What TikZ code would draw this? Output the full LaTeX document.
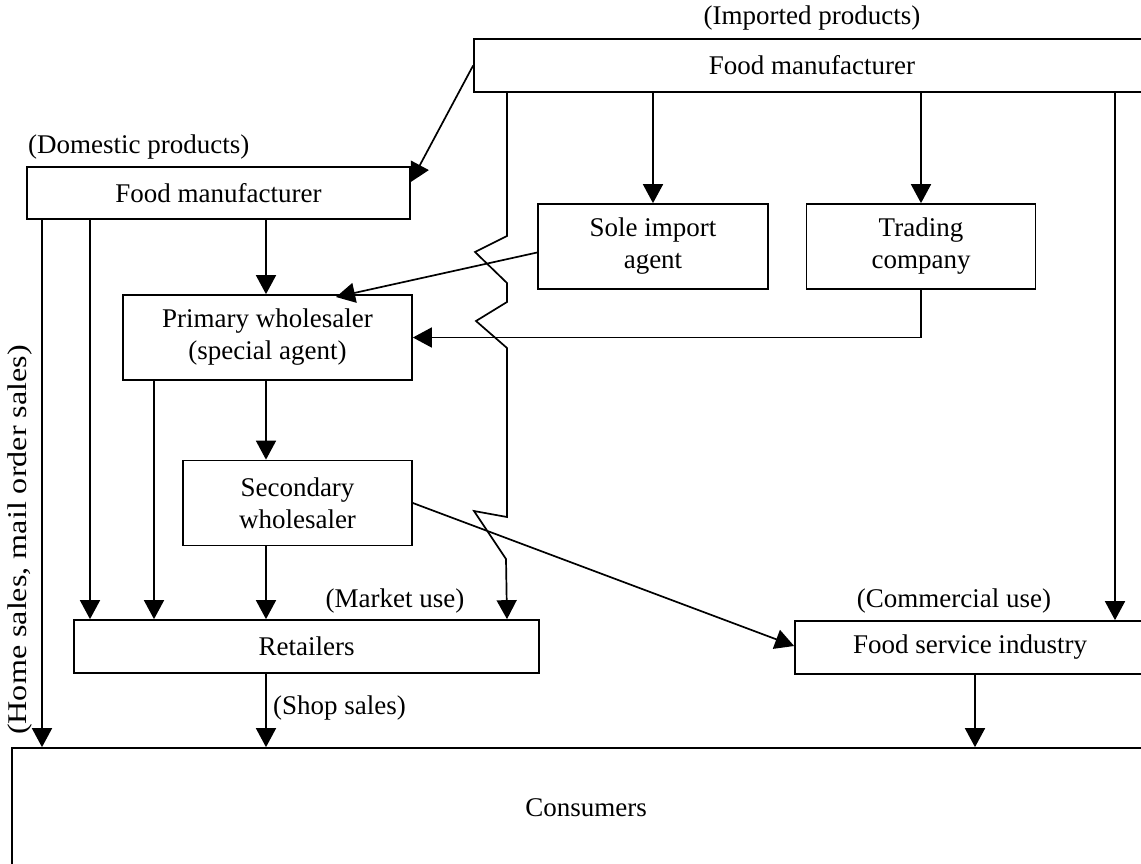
\documentclass[tikz,border=0pt]{standalone}
\usepackage{fontspec}
\setmainfont{Liberation Serif}
\usetikzlibrary{arrows.meta}

\begin{document}
\begin{tikzpicture}[x=1pt,y=-1pt,
	box/.style={draw,line width=1.7pt,inner sep=0pt,align=center,font=\fontsize{27}{32}\selectfont},
	lbl/.style={inner sep=0pt,font=\fontsize{27}{32}\selectfont},
	flow/.style={line width=1.7pt,-{Triangle[length=19pt,width=20pt]}}]
		\useasboundingbox (0,0) rectangle (1141,863);
		\clip (0,0) rectangle (1141,863);
		% boxes
		\node[box,minimum width=676pt,minimum height=53pt] (impmfr) at (812,65.5) {Food manufacturer};
		\node[box,minimum width=383pt,minimum height=52pt] (dommfr) at (218.5,193) {Food manufacturer};
		\node[box,minimum width=230pt,minimum height=85pt] (solea) at (653,246.5) {Sole import\\agent};
		\node[box,minimum width=229pt,minimum height=85pt] (trading) at (921,246.5) {Trading\\company};
		\node[box,minimum width=289pt,minimum height=85pt] (primary) at (267.5,337.5) {Primary wholesaler\\(special agent)};
		\node[box,minimum width=229pt,minimum height=85pt] (secondary) at (297.5,503) {Secondary\\wholesaler};
		\node[box,minimum width=465pt,minimum height=53pt] (retailers) at (306.5,646.5) {Retailers};
		\node[box,minimum width=350pt,minimum height=53pt] (foodserv) at (970,647.5) {Food service industry};
		\node[box,minimum width=1148pt,minimum height=120pt] (consumers) at (586,808) {Consumers};
		% labels
		\node[lbl] (imphdr) at (812,18) {(Imported products)};
		\node[lbl,anchor=west] (domhdr) at (28,147) {(Domestic products)};
		\node[lbl] (market) at (395,601) {(Market use)};
		\node[lbl] (commercial) at (954,601) {(Commercial use)};
		\node[lbl,anchor=west] (shop) at (273,708) {(Shop sales)};
		\node[lbl,rotate=90] (homesales) at (20,540) {\scalebox{1.19}[1]{(Home sales, mail order sales)}};
		% imported goods
		\draw[flow] (impmfr.west) -- ([yshift=11pt]dommfr.east);
		\draw[flow] (solea.north |- impmfr.south) -- (solea.north);
		\draw[flow] (trading.north |- impmfr.south) -- (trading.north);
		\draw[flow] (1115,0 |- impmfr.south) -- (1115,0 |- foodserv.north);
		\draw[flow] (507,0 |- impmfr.south) -- (507,236) -- (475,252) -- (507,283) -- (507,302)
			-- (476,321) -- (507,348) -- (507,517) -- (474,511) -- (506,559) -- (507,0 |- retailers.north);
		\draw[flow] ([yshift=-6pt]solea.west) -- (336,297);
		\draw[flow] (trading.south) |- (primary.east);
		% domestic goods
		\draw[flow] (42,0 |- dommfr.south) -- (42,0 |- consumers.north);
		\draw[flow] (90,0 |- dommfr.south) -- (90,0 |- retailers.north);
		\draw[flow] (266,0 |- dommfr.south) -- (266,0 |- primary.north);
		\draw[flow] (154,0 |- primary.south) -- (154,0 |- retailers.north);
		\draw[flow] (266,0 |- primary.south) -- (266,0 |- secondary.north);
		\draw[flow] (266,0 |- secondary.south) -- (266,0 |- retailers.north);
		\draw[flow] (secondary.east) -- ([yshift=1.5pt]foodserv.west);
		\draw[flow] (266,0 |- retailers.south) -- (266,0 |- consumers.north);
		\draw[flow] (975,0 |- foodserv.south) -- (975,0 |- consumers.north);
\end{tikzpicture}
\end{document}
